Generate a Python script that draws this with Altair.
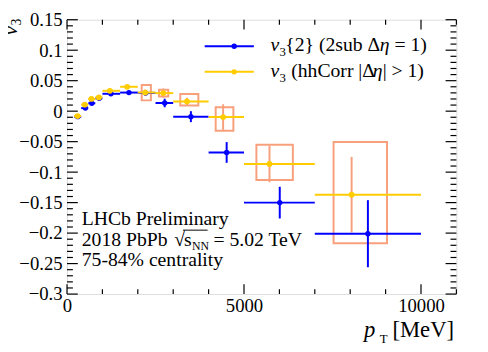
import altair as alt
import pandas as pd

# ---------------- data ----------------
# v3{2} (2sub, delta eta = 1)
blue_x   = [305, 520, 700, 910, 1240, 1750, 2220, 2760, 3500, 4510, 6010, 8500]
blue_xlo = [200, 400, 600, 800, 1000, 1500, 2000, 2500, 3000, 4000, 5000, 7000]
blue_xhi = [400, 600, 800, 1000, 1500, 2000, 2500, 3000, 4000, 5000, 7000, 10000]
blue_y   = [-0.009, 0.005, 0.013, 0.021, 0.0285, 0.0305, 0.030, 0.0134, -0.009, -0.0677, -0.150, -0.201]
blue_err = [0.003, 0.003, 0.003, 0.003, 0.003, 0.003, 0.004, 0.007, 0.009, 0.017, 0.026, 0.055]

# v3 (hhCorr |delta eta| > 1)
yel_x    = [300, 500, 690, 900, 1210, 1700, 2210, 2720, 3390, 4410, 5720, 8040]
yel_xlo  = [200, 400, 600, 800, 1000, 1500, 2000, 2500, 3000, 4000, 5000, 7000]
yel_xhi  = [400, 600, 800, 1000, 1500, 2000, 2500, 3000, 4000, 5000, 7000, 10000]
yel_y    = [-0.008, 0.0107, 0.020, 0.0226, 0.0334, 0.040, 0.0306, 0.0296, 0.016, -0.0097, -0.0866, -0.137]
yel_stat = [0.002, 0.002, 0.002, 0.002, 0.002, 0.003, 0.005, 0.0075, 0.006, 0.021, 0.030, 0.062]

# systematic boxes for hhCorr
sys_xlo = [2110, 2600, 3200, 4200, 5350, 7530]
sys_xhi = [2370, 2860, 3710, 4700, 6380, 9040]
sys_ylo = [0.0177, 0.024, 0.0092, -0.032, -0.113, -0.2166]
sys_yhi = [0.043, 0.035, 0.028, 0.0065, -0.055, -0.0505]

x_major = [0, 5000, 10000]
x_minor = [1000, 2000, 3000, 4000, 6000, 7000, 8000, 9000, 11000]
y_major = [-0.3, -0.25, -0.2, -0.15, -0.1, -0.05, 0, 0.05, 0.1, 0.15]
y_minor = [round(-0.3 + 0.01 * i, 2) for i in range(46) if i % 5 != 0]

BLUE = "#0000ff"
YEL = "#ffcc00"
SAL = "#f8a07c"
FONT = "Liberation Serif"
FS = 20
W, H = 396, 279

blue = pd.DataFrame({"x": blue_x, "xlo": blue_xlo, "xhi": blue_xhi, "y": blue_y,
                     "ylo": [a - b for a, b in zip(blue_y, blue_err)],
                     "yhi": [a + b for a, b in zip(blue_y, blue_err)]})
yel = pd.DataFrame({"x": yel_x, "xlo": yel_xlo, "xhi": yel_xhi, "y": yel_y,
                    "ylo": [a - b for a, b in zip(yel_y, yel_stat)],
                    "yhi": [a + b for a, b in zip(yel_y, yel_stat)]})
sysd = pd.DataFrame({"xlo": sys_xlo, "xhi": sys_xhi, "ylo": sys_ylo, "yhi": sys_yhi})

xs = alt.Scale(domain=[0, 11000], nice=False, zero=False)
ys = alt.Scale(domain=[-0.3, 0.15], nice=False, zero=False)
xaxis = alt.Axis(values=x_major, format="d", title=None, ticks=False, domain=False, grid=False,
                 labelFont=FONT, labelFontSize=19, labelColor="black", labelPadding=3, labelFlush=False)
yaxis = alt.Axis(values=y_major, format="~g", title=None, ticks=False, domain=False, grid=False,
                 labelFont=FONT, labelFontSize=19, labelColor="black", labelPadding=5, labelFlush=False)


def X(f):
    return alt.X(f, type="quantitative", scale=xs, axis=xaxis)


def Y(f):
    return alt.Y(f, type="quantitative", scale=ys, axis=yaxis)


layers = []
# systematic boxes
layers.append(alt.Chart(sysd).mark_rect(fill=None, stroke=SAL, strokeWidth=2).encode(
    x=X("xlo"), x2="xhi", y=Y("ylo"), y2="yhi"))
# hhCorr stat vertical
layers.append(alt.Chart(yel).mark_rule(color=SAL, strokeWidth=2).encode(
    x=X("x"), y=Y("ylo"), y2="yhi"))
# blue errors
layers.append(alt.Chart(blue).mark_rule(color=BLUE, strokeWidth=2).encode(
    x=X("xlo"), x2="xhi", y=Y("y")))
layers.append(alt.Chart(blue).mark_rule(color=BLUE, strokeWidth=2).encode(
    x=X("x"), y=Y("ylo"), y2="yhi"))
layers.append(alt.Chart(blue).mark_circle(color=BLUE, size=30, opacity=1).encode(
    x=X("x"), y=Y("y")))
# yellow
layers.append(alt.Chart(yel).mark_rule(color=YEL, strokeWidth=2).encode(
    x=X("xlo"), x2="xhi", y=Y("y")))
layers.append(alt.Chart(yel).mark_circle(color=YEL, size=34, opacity=1).encode(
    x=X("x"), y=Y("y")))

# ticks (inward)
tx_maj = pd.DataFrame({"v": x_major})
tx_min = pd.DataFrame({"v": x_minor})
ty_maj = pd.DataFrame({"v": y_major})
ty_min = pd.DataFrame({"v": y_minor})
for d, ln in ((tx_maj, 10), (tx_min, 5)):
    layers.append(alt.Chart(d).mark_rule(color="black", strokeWidth=1.2).encode(
        x=X("v"), y=alt.value(H), y2=alt.value(H - ln)))
    layers.append(alt.Chart(d).mark_rule(color="black", strokeWidth=1.2).encode(
        x=X("v"), y=alt.value(0), y2=alt.value(ln)))
for d, ln in ((ty_maj, 11), (ty_min, 6)):
    layers.append(alt.Chart(d).mark_rule(color="black", strokeWidth=1.2).encode(
        y=Y("v"), x=alt.value(0), x2=alt.value(ln)))
    layers.append(alt.Chart(d).mark_rule(color="black", strokeWidth=1.2).encode(
        y=Y("v"), x=alt.value(W), x2=alt.value(W - ln)))

one = pd.DataFrame({"a": [0]})


def txt(s, x, y, size=FS, style="normal", angle=0, align="left"):
    return alt.Chart(one).mark_text(text=s, font=FONT, fontSize=size, fontStyle=style,
                                    align=align, baseline="alphabetic", angle=angle,
                                    color="black").encode(x=alt.value(x), y=alt.value(y))


# legend
for yy, col in ((27, BLUE), (53, YEL)):
    layers.append(alt.Chart(one).mark_rule(color=col, strokeWidth=2).encode(
        x=alt.value(140), x2=alt.value(190), y=alt.value(yy)))
    layers.append(alt.Chart(one).mark_circle(color=col, size=30, opacity=1).encode(
        x=alt.value(170), y=alt.value(yy)))
layers.append(txt("v", 207, 32, style="italic"))
layers.append(txt("3", 216, 37, size=13))
layers.append(txt("{2} (2sub \u0394", 222, 32))
layers.append(txt("\u03b7", 318, 32, style="italic"))
layers.append(txt("= 1)", 333, 32))
layers.append(txt("v", 207, 58, style="italic"))
layers.append(txt("3", 216, 63, size=13))
layers.append(txt("(hhCorr |\u0394", 228, 58))
layers.append(txt("\u03b7", 311, 58, style="italic"))
layers.append(txt("| > 1)", 321, 58))

# annotation
layers.append(txt("LHCb Preliminary", 15, 209))
layers.append(txt("2018 PbPb", 15, 230))
layers.append(txt("\u221a", 109, 230))
layers.append(alt.Chart(one).mark_rule(color="black", strokeWidth=1).encode(
    x=alt.value(118), x2=alt.value(143), y=alt.value(214)))
layers.append(txt("s", 119, 230))
layers.append(txt("NN", 127, 234, size=12))
layers.append(txt("= 5.02 TeV", 149, 230))
layers.append(txt("75-84% centrality", 15, 250))

# axis titles
layers.append(txt("p", 302, 323, size=23, style="italic"))
layers.append(txt("T", 318, 329, size=13))
layers.append(txt("[MeV]", 331, 323, size=23))
layers.append(txt("v", -51, 16, size=22, style="italic", angle=270))
layers.append(txt("3", -47, 6, size=14, angle=270))

chart = alt.layer(*layers).properties(
    width=W, height=H,
    padding={"left": 60, "top": 9, "right": 24, "bottom": 56},
    autosize=alt.AutoSizeParams(type="none"),
).configure_view(stroke="black", strokeWidth=1.5).configure_axis(
    labelFont=FONT, labelFontSize=19, labelColor="black"
).configure(background="white")

chart.save("out.html", embed_options={"renderer": "svg", "actions": False})
